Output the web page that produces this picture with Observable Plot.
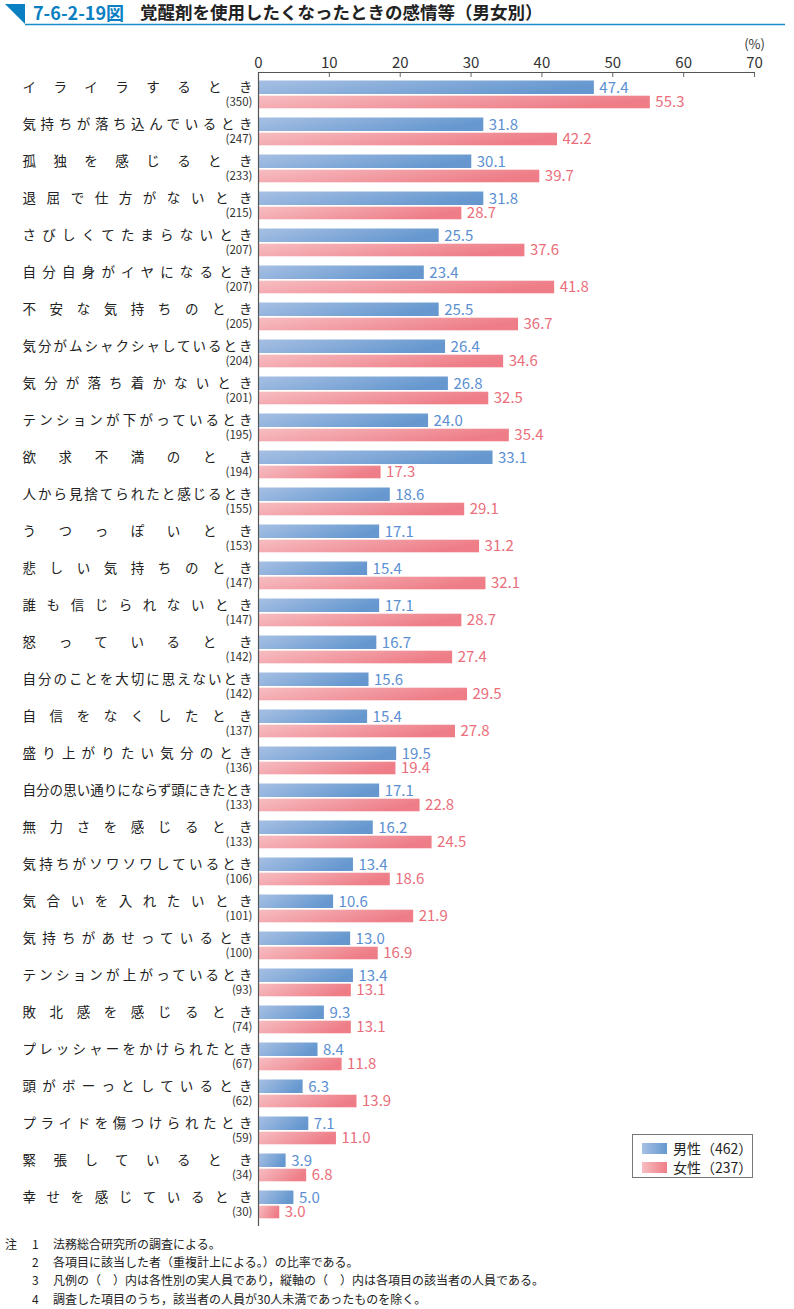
<!DOCTYPE html>
<html><head><meta charset="utf-8">
<script src="https://cdn.jsdelivr.net/npm/d3@7"></script>
<script src="https://cdn.jsdelivr.net/npm/@observablehq/plot@0.6"></script>
<style>
body{margin:0;background:#fff;font-family:"Noto Sans CJK JP","Noto Sans",sans-serif;}
#page{position:relative;width:794px;height:1309px;overflow:hidden;}
#chart{position:absolute;left:0;top:0;}
.abs{position:absolute;white-space:nowrap;}
</style></head>
<body><div id="page">
<div id="chart"></div>
<svg class="abs" style="left:0;top:0" width="794" height="30">
  <polygon points="5,4 25,4 25,24" fill="#0a7fc2"/>
  <line x1="25" y1="24.5" x2="785" y2="24.5" stroke="#1a8ccc" stroke-width="1.5"/>
</svg>
<div class="abs" style="left:33px;top:1px;font-size:18px;font-weight:bold;color:#0a7fc2;line-height:22px;">7-6-2-19図</div>
<div class="abs" style="left:140px;top:1px;font-size:17.5px;font-weight:bold;color:#222;line-height:22px;">覚醒剤を使用したくなったときの感情等（男女別）</div>
<div id="legend" class="abs" style="left:632px;top:1134px;width:119px;height:42px;border:1px solid #777;background:#fff;"></div>
<div id="notes"></div>
</div>
<script>
const names = ["イライラするとき","気持ちが落ち込んでいるとき","孤独を感じるとき","退屈で仕方がないとき","さびしくてたまらないとき","自分自身がイヤになるとき","不安な気持ちのとき","気分がムシャクシャしているとき","気分が落ち着かないとき","テンションが下がっているとき","欲求不満のとき","人から見捨てられたと感じるとき","うつっぽいとき","悲しい気持ちのとき","誰も信じられないとき","怒っているとき","自分のことを大切に思えないとき","自信をなくしたとき","盛り上がりたい気分のとき","自分の思い通りにならず頭にきたとき","無力さを感じるとき","気持ちがソワソワしているとき","気合いを入れたいとき","気持ちがあせっているとき","テンションが上がっているとき","敗北感を感じるとき","プレッシャーをかけられたとき","頭がボーっとしているとき","プライドを傷つけられたとき","緊張しているとき","幸せを感じているとき"];
const counts = [350,247,233,215,207,207,205,204,201,195,194,155,153,147,147,142,142,137,136,133,133,106,101,100,93,74,67,62,59,34,30];
const male = [47.4,31.8,30.1,31.8,25.5,23.4,25.5,26.4,26.8,24.0,33.1,18.6,17.1,15.4,17.1,16.7,15.6,15.4,19.5,17.1,16.2,13.4,10.6,13.0,13.4,9.3,8.4,6.3,7.1,3.9,5.0];
const female = [55.3,42.2,39.7,28.7,37.6,41.8,36.7,34.6,32.5,35.4,17.3,29.1,31.2,32.1,28.7,27.4,29.5,27.8,19.4,22.8,24.5,18.6,21.9,16.9,13.1,13.1,11.8,13.9,11.0,6.8,3.0];
const xTicks = [0,10,20,30,40,50,60,70];
const legendItems = ["男性（462）","女性（237）"];
const notes = [["注","1","法務総合研究所の調査による。"],["","2","各項目に該当した者（重複計上による。）の比率である。"],["","3","凡例の（　）内は各性別の実人員であり，縦軸の（　）内は各項目の該当者の人員である。"],["","4","調査した項目のうち，該当者の人員が30人未満であったものを除く。"]];

const rows = names.map((n,i)=>({name:n, count:`(${counts[i]})`, male:male[i], female:female[i]}));
const maleColor = "#5b8fd2", femaleColor = "#ea6e7b";
const H = 1232, MT = 72, MB = 6;
const plotH = H - MT - MB;

const plot = Plot.plot({
  width: 794, height: H,
  marginTop: MT, marginBottom: MB, marginLeft: 258, marginRight: 40,
  style: {fontFamily: '"Noto Sans CJK JP","Noto Sans",sans-serif', background: "transparent"},
  x: {domain: [0,70], axis: null},
  y: {domain: names, padding: 0, axis: null},
  marks: [
    Plot.barX(rows, {x: "male", y: "name", fill: "url(#gm)", insetTop: 4.5, insetBottom: 19}),
    Plot.barX(rows, {x: "female", y: "name", fill: "url(#gf)", insetTop: 19.7, insetBottom: 4.7}),
    Plot.text(rows, {x: "male", y: "name", text: d => d.male.toFixed(1), dx: 5, dy: -7.2, textAnchor: "start", fill: maleColor, fontSize: 15}),
    Plot.text(rows, {x: "female", y: "name", text: d => d.female.toFixed(1), dx: 5, dy: 7.4, textAnchor: "start", fill: femaleColor, fontSize: 15}),
    Plot.text(rows, {x: 0, y: "name", text: "name", dx: -6, dy: -7.6, textAnchor: "end", fill: "#222", fontSize: 13.5}),
    Plot.text(rows, {x: 0, y: "name", text: "count", dx: -6, dy: 7.8, textAnchor: "end", fill: "#333", fontSize: 11.5}),
    Plot.axisX(xTicks, {anchor: "top", tickSize: 0, tickPadding: 5, fontSize: 15, fill: "#333", tickFormat: d => d}),
    Plot.tickX(xTicks, {x: d => d, stroke: "#666", insetBottom: plotH - 5}),
    Plot.ruleX([0], {stroke: "#555", strokeWidth: 1.2}),
    Plot.frame({anchor: "top", stroke: "#555"}),
    Plot.text(["(%)"], {frameAnchor: "top-right", text: d => d, dy: -33, textAnchor: "middle", fontSize: 13, fill: "#333"})
  ]
});

const defs = d3.select(plot).insert("defs", ":first-child");
function grad(id, c0, c1){
  const g = defs.append("linearGradient").attr("id", id).attr("x1","0").attr("y1","0").attr("x2","1").attr("y2","0.3");
  g.append("stop").attr("offset","0").attr("stop-color",c0);
  g.append("stop").attr("offset","1").attr("stop-color",c1);
}
grad("gm", "#a7c0e4", "#6698cf");
grad("gf", "#f6bec2", "#ee7d87");
const nameSet = new Set(names);
d3.select(plot).selectAll("text").filter(function(){ return nameSet.has(this.textContent); })
  .attr("textLength", 230).attr("lengthAdjust", "spacing");
document.getElementById("chart").appendChild(plot);

// legend
const lg = d3.select("#legend");
legendItems.forEach((t,i)=>{
  const row = lg.append("div").style("position","absolute").style("left","9px").style("top",(5+i*19)+"px").style("height","16px").style("display","flex").style("align-items","center");
  row.append("div").style("width","25px").style("height","11px").style("background", i===0 ? "linear-gradient(90deg,#a7c0e4,#6698cf)" : "linear-gradient(90deg,#f6bec2,#ee7d87)");
  row.append("div").style("margin-left","6px").style("font-size","14px").style("color","#222").style("line-height","16px").text(t);
});

// notes
const nt = d3.select("#notes");
notes.forEach((n,i)=>{
  const top = 1235 + i*18.2;
  nt.append("div").attr("class","abs").style("left","5px").style("top",top+"px").style("font-size","12px").style("color","#222").text(n[0]);
  nt.append("div").attr("class","abs").style("left","32px").style("top",top+"px").style("font-size","12px").style("color","#222").text(n[1]);
  nt.append("div").attr("class","abs").style("left","53px").style("top",top+"px").style("font-size","12px").style("color","#222").text(n[2]);
});
</script>
</body></html>
